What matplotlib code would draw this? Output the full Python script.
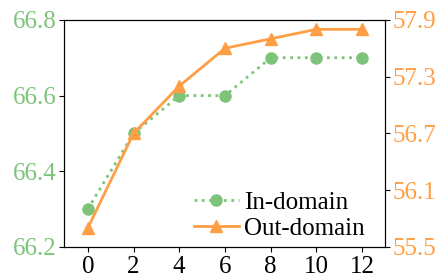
import matplotlib
matplotlib.use('Agg')
import matplotlib.pyplot as plt

plt.rcParams['font.family'] = ['Liberation Serif', 'DejaVu Serif']

steps = [0, 2, 4, 6, 8, 10, 12]
in_domain = [66.3, 66.5, 66.6, 66.6, 66.7, 66.7, 66.7]
out_domain = [55.7, 56.7, 57.2, 57.6, 57.7, 57.8, 57.8]
left_ticks = [66.2, 66.4, 66.6, 66.8]
right_ticks = [55.5, 56.1, 56.7, 57.3, 57.9]

green = '#7dc47a'
orange = '#ff9f45'

fig = plt.figure(figsize=(4.4, 2.8), dpi=100)
ax = fig.add_axes([0.145, 0.118, 0.73, 0.811])
ax2 = ax.twinx()

l1, = ax.plot(steps, in_domain, ':', color=green, marker='o', markersize=8, linewidth=2, label='In-domain')
l2, = ax2.plot(steps, out_domain, '-', color=orange, marker='^', markersize=8, linewidth=2, label='Out-domain')

ax.set_xlim(-1.05, 13)
ax.set_ylim(66.2, 66.8)
ax2.set_ylim(55.5, 57.9)
ax.set_xticks(steps)
ax.set_yticks(left_ticks)
ax.set_yticklabels(['%.1f' % v for v in left_ticks])
ax2.set_yticks(right_ticks)
ax2.set_yticklabels(['%.1f' % v for v in right_ticks])

fs = 18
ax.tick_params(axis='x', labelsize=fs, pad=3)
ax.tick_params(axis='y', labelsize=fs, labelcolor=green, color='black', pad=2)
ax2.tick_params(axis='y', labelsize=fs, labelcolor=orange, color='black', pad=2)

ax.legend(handles=[l1, l2], loc='lower right', frameon=False, fontsize=fs,
          handlelength=1.8, handletextpad=0.2, borderaxespad=0.1, labelspacing=0.15,
          bbox_to_anchor=(0.975, -0.025))

fig.savefig('out.png', dpi=100)
